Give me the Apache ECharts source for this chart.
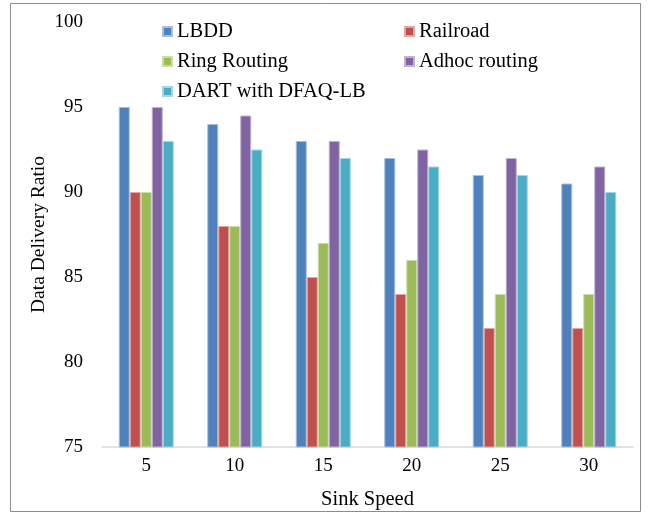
<!DOCTYPE html>
<html>
<head>
<meta charset="utf-8">
<script src="https://cdn.jsdelivr.net/npm/echarts@6/dist/echarts.min.js"></script>
<style>
  html, body { margin: 0; padding: 0; background: #fff; }
  #chart { width: 648px; height: 520px; }
</style>
</head>
<body>
<div id="chart"></div>
<script>
// Sink speed categories
const categories = ['5', '10', '15', '20', '25', '30'];

// Data delivery ratio per protocol
const lbdd     = [95, 94, 93, 92, 91, 90.5];
const railroad = [90, 88, 85, 84, 82, 82];
const ring     = [90, 88, 87, 86, 84, 84];
const adhoc    = [95, 94.5, 93, 92.5, 92, 91.5];
const dart     = [93, 92.5, 92, 91.5, 91, 90];

const yTicks = [75, 80, 85, 90, 95, 100];

const font = 'Liberation Serif, Times New Roman, serif';

const seriesDefs = [
  { name: 'LBDD', data: lbdd, color: '#4f81bd', border: '#a7bfde' },
  { name: 'Railroad', data: railroad, color: '#c0504d', border: '#dfa8a6' },
  { name: 'Ring Routing', data: ring, color: '#9bbb59', border: '#cddcac' },
  { name: 'Adhoc routing', data: adhoc, color: '#8064a2', border: '#bfb1d0' },
  { name: 'DART with DFAQ-LB', data: dart, color: '#4bacc6', border: '#a5d5e2' }
];

const chart = echarts.init(document.getElementById('chart'), null, { renderer: 'canvas' });

const legendText = { fontFamily: font, fontSize: 20.5, color: '#000', lineHeight: 20 };

chart.setOption({
  animation: false,
  backgroundColor: '#fff',
  graphic: [{
    type: 'rect',
    shape: { x: 10.5, y: 3.5, width: 630, height: 508 },
    style: { fill: 'none', stroke: '#8c8c8c', lineWidth: 1 },
    silent: true
  }],
  legend: [
    {
      data: ['LBDD', 'Ring Routing', 'DART with DFAQ-LB'],
      orient: 'vertical', left: 157, top: 16,
      itemWidth: 9, itemHeight: 9, itemGap: 9,
      icon: 'rect', textStyle: legendText
    },
    {
      data: ['Railroad', 'Adhoc routing'],
      orient: 'vertical', left: 399, top: 16,
      itemWidth: 9, itemHeight: 9, itemGap: 9,
      icon: 'rect', textStyle: legendText
    }
  ],
  grid: { left: 102, right: 15, top: 22, bottom: 73 },
  xAxis: {
    type: 'category',
    data: categories,
    name: 'Sink Speed',
    nameLocation: 'middle',
    nameGap: 42,
    nameTextStyle: { fontFamily: font, fontSize: 20.5, color: '#000' },
    axisLine: { lineStyle: { color: '#d9d9d9', width: 1.5 } },
    axisTick: { show: false },
    axisLabel: { fontFamily: font, fontSize: 19, color: '#000', margin: 10 }
  },
  yAxis: {
    type: 'value',
    min: yTicks[0],
    max: yTicks[yTicks.length - 1],
    interval: 5,
    name: 'Data Delivery Ratio',
    nameLocation: 'middle',
    nameGap: 53,
    nameMoveOverlap: false,
    nameTextStyle: { fontFamily: font, fontSize: 19.5, color: '#000' },
    axisLine: { show: false },
    axisTick: { show: false },
    splitLine: { show: false },
    axisLabel: { fontFamily: font, fontSize: 19, color: '#000', margin: 19 }
  },
  series: seriesDefs.map(s => ({
    name: s.name,
    type: 'bar',
    data: s.data,
    barWidth: 11,
    barGap: '0%',
    itemStyle: { color: s.color, borderColor: s.border, borderWidth: 1 }
  }))
});
</script>
</body>
</html>
